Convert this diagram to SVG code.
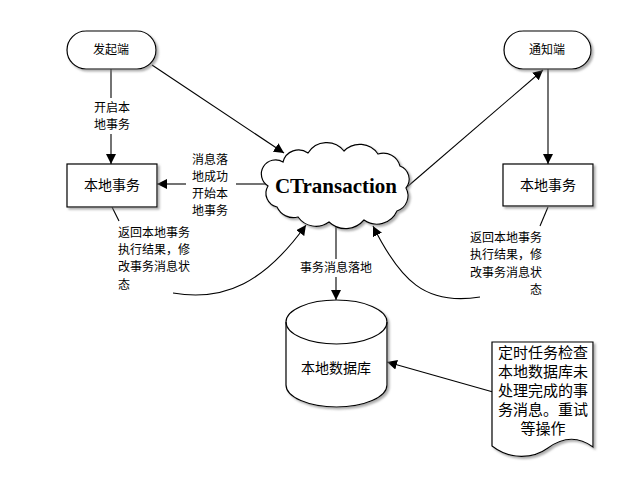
<svg xmlns="http://www.w3.org/2000/svg" width="640" height="480" viewBox="0 0 640 480">
<style>
.shape{fill:#fff;stroke:#000;stroke-width:1.2}
.line{fill:none;stroke:#000;stroke-width:1.1}
.lbl{font-family:"Noto Sans CJK SC","Liberation Sans",sans-serif;font-size:12px;fill:#000}
.node{font-family:"Noto Sans CJK SC","Liberation Sans",sans-serif;font-size:14px;fill:#000;text-anchor:middle}
.doc{font-family:"Noto Sans CJK SC","Liberation Sans",sans-serif;font-size:15px;fill:#000;text-anchor:middle}
.mid{text-anchor:middle}
.end{text-anchor:end}
</style>
<defs>
<filter id="sh" x="-10%" y="-10%" width="130%" height="140%">
<feDropShadow dx="2" dy="2" stdDeviation="1.2" flood-color="#777" flood-opacity="0.6"/>
</filter>
<marker id="arr" viewBox="0 0 10 10" refX="10" refY="5" markerWidth="10" markerHeight="10" markerUnits="userSpaceOnUse" orient="auto">
<path d="M0,0 L10,5 L0,10 Z" fill="#000"/>
</marker>
</defs>
<rect width="640" height="480" fill="#fff"/>

<g id="connectors">
<line class="line" x1="111" y1="69" x2="111" y2="98"/>
<line class="line" x1="111" y1="134" x2="111" y2="164" marker-end="url(#arr)"/>
<line class="line" x1="152" y1="65" x2="284" y2="153" marker-end="url(#arr)"/>
<line class="line" x1="268" y1="184" x2="236" y2="184"/>
<line class="line" x1="186" y1="184" x2="157" y2="184" marker-end="url(#arr)"/>
<line class="line" x1="407" y1="187" x2="543" y2="70" marker-end="url(#arr)"/>
<line class="line" x1="548" y1="69" x2="548" y2="164" marker-end="url(#arr)"/>
<line class="line" x1="112" y1="207" x2="119" y2="221"/>
<path class="line" d="M173,293 C225,302 265,282 306,225" marker-end="url(#arr)"/>
<line class="line" x1="548" y1="207" x2="540" y2="226"/>
<path class="line" d="M480,297 C425,306 400,280 373,226" marker-end="url(#arr)"/>
<line class="line" x1="336" y1="222" x2="336" y2="259"/>
<line class="line" x1="336" y1="277" x2="336" y2="300" marker-end="url(#arr)"/>
<line class="line" x1="493" y1="392" x2="387" y2="362" marker-end="url(#arr)"/>
<text class="lbl mid" x="112" y="112">开启本</text>
<text class="lbl mid" x="112" y="129">地事务</text>
<text class="lbl mid" x="210" y="164">消息落</text>
<text class="lbl mid" x="210" y="181">地成功</text>
<text class="lbl mid" x="210" y="198">开始本</text>
<text class="lbl mid" x="210" y="215">地事务</text>
<text class="lbl" x="118" y="237">返回本地事务</text>
<text class="lbl" x="118" y="254">执行结果，修</text>
<text class="lbl" x="118" y="271">改事务消息状</text>
<text class="lbl" x="118" y="289">态</text>
<text class="lbl end" x="542" y="242">返回本地事务</text>
<text class="lbl end" x="542" y="259">执行结果，修</text>
<text class="lbl end" x="542" y="277">改事务消息状</text>
<text class="lbl end" x="542" y="294">态</text>
<text class="lbl mid" x="336" y="272">事务消息落地</text>
</g>

<g id="start">
<rect class="shape" x="67" y="31" width="89" height="38" rx="19" ry="19" filter="url(#sh)"/>
<text class="lbl mid" x="111" y="54">发起端</text>
</g>

<g id="notify">
<rect class="shape" x="504" y="31" width="87" height="38" rx="19" ry="19" filter="url(#sh)"/>
<text class="lbl mid" x="547" y="54">通知端</text>
</g>

<g id="local-left">
<rect class="shape" x="67" y="164" width="90" height="43" filter="url(#sh)"/>
<text class="node" x="112" y="190">本地事务</text>
</g>

<g id="local-right">
<rect class="shape" x="503" y="164" width="90" height="42" filter="url(#sh)"/>
<text class="node" x="548" y="190">本地事务</text>
</g>

<g id="ctransaction">
<path class="shape" filter="url(#sh)" d="M283,162 A16,16 0 0 1 308,153 A22,22 0 0 1 344,151 A22,22 0 0 1 378,154 A17,17 0 0 1 400,166 A14,14 0 0 1 406,188 A16,16 0 0 1 397,211 A22,22 0 0 1 364,220 A24,24 0 0 1 329,222 A22,22 0 0 1 298,217 A18,18 0 0 1 277,207 A14,14 0 0 1 268,186 A14,14 0 0 1 283,162 Z"/>
<text x="336" y="193" text-anchor="middle" font-family="Liberation Serif, serif" font-weight="bold" font-size="21">CTransaction</text>
</g>

<g id="database">
<path class="shape" filter="url(#sh)" d="M286,322 A50.5,22 0 0 1 387,322 V385 A50.5,22 0 0 1 286,385 Z"/>
<path class="line" d="M286,322 A50.5,22 0 0 0 387,322"/>
<text class="node" x="336" y="373">本地数据库</text>
</g>

<g id="document">
<path class="shape" filter="url(#sh)" d="M492,342 H593 V447 C578,436 563,437 548,448 C533,459 510,460 492,446 Z"/>
<text class="doc" x="543" y="358">定时任务检查</text>
<text class="doc" x="543" y="377">本地数据库未</text>
<text class="doc" x="543" y="396">处理完成的事</text>
<text class="doc" x="543" y="415">务消息。重试</text>
<text class="doc" x="543" y="434">等操作</text>
</g>
</svg>
